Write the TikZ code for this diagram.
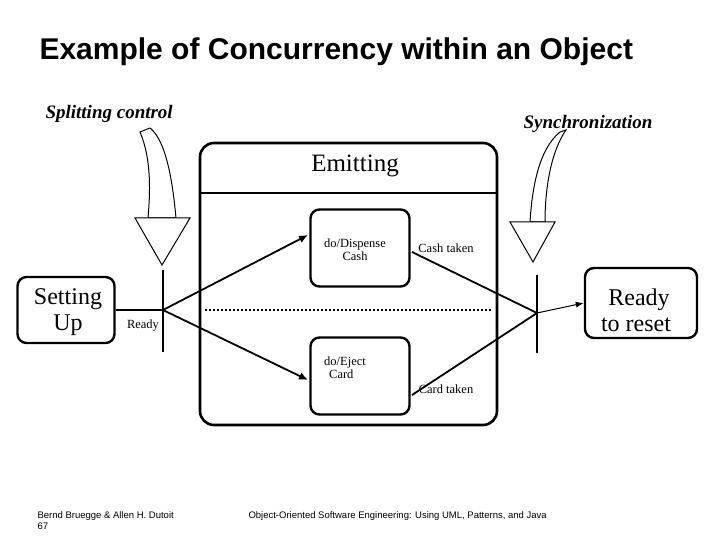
\documentclass[tikz,border=0pt]{standalone}
\usepackage{fontspec}
\setmainfont{Liberation Serif}
\newfontfamily\titlefont{Liberation Sans}
\usetikzlibrary{positioning,arrows.meta}
\begin{document}
\begin{tikzpicture}[x=1pt,y=-1pt,
  state/.style={draw,line width=2.4pt,rounded corners=9pt,align=center},
  bar/.style={line width=2.4pt},
  trans/.style={line width=1.8pt,-{Latex[length=9pt,width=8pt]}},
  small/.style={font=\fontsize{12.5}{13}\selectfont},
  hollow/.style={draw,line width=1pt,fill=white}]
\useasboundingbox (0,0) rectangle (720,540);
% title
\node[anchor=west,font=\titlefont\bfseries\fontsize{30}{32}\selectfont] (title) at (36,52) {Example of Concurrency within an Object};
\node[anchor=west,font=\itshape\bfseries\fontsize{19}{22}\selectfont] (split) at (42,114) {Splitting control};
\node[anchor=west,font=\itshape\bfseries\fontsize{19}{22}\selectfont] (sync) at (520,124) {Synchronization};
% composite state
\draw[line width=2.6pt,rounded corners=14pt] (200,143) rectangle (497,425);
\draw[line width=1.4pt] (200,193) -- (497,193);
\node[font=\fontsize{25}{28}\selectfont] (emit) at (355,166) {Emitting};
\draw[line width=2pt,dotted] (205,310) -- (492,310);
% states
\node[state,minimum width=97pt,minimum height=66pt] (setup) at (66,310) {};
\node[font=\fontsize{24}{26}\selectfont,align=center] (setuptxt) at (68,312) {Setting\\Up};
\node[state,minimum width=112pt,minimum height=70pt] (reset) at (641,303) {};
\node[font=\fontsize{24}{26}\selectfont,align=center] (resettxt) at (636,310) {\hspace*{6pt}Ready\\to reset};
\node[state,minimum width=99pt,minimum height=77pt] (cash) at (360,248) {};
\node[small,align=center] (cashtxt) at (355,250) {do/Dispense\\Cash};
\node[state,minimum width=99pt,minimum height=77pt] (card) at (360,376) {};
\node[small,align=left] (cardtxt) at (345,368) {do/Eject\\\hspace{5pt}Card};
% bars
\coordinate (forkT) at (163,270); \coordinate (forkB) at (163,352);
\coordinate (fork) at (163,310);
\coordinate (joinT) at (537,275); \coordinate (joinB) at (537,353);
\coordinate (join) at (537,313);
\draw[bar] (forkT) -- (forkB);
\draw[bar] (joinT) -- (joinB);
% transitions
\draw[line width=1.2pt] (setup.east) -- (fork);
\node[small] (ready) at (143,326) {Ready};
\draw[trans] (fork) -- (308,235);
\draw[trans] (fork) -- (308,380);
\draw[line width=1.8pt] (412,252) -- (join);
\draw[line width=1.8pt] (412,395) -- (join);
\node[small] (cashtaken) at (446,248) {Cash taken};
\node[small] (cardtaken) at (446,389) {Card taken};
\draw[line width=1pt,-{Latex[length=8pt,width=6pt]}] (join) -- (reset.west);
% hollow callout arrows
\draw[hollow] (140,132) .. controls (152,160) and (150,195) .. (148,218)
  -- (176,218) .. controls (172,175) and (165,140) .. (150,128) -- cycle;
\draw[hollow] (135,218) -- (190,218) -- (162,265) -- cycle;
\draw[hollow] (560,132) .. controls (538,150) and (532,190) .. (530,222)
  -- (545,222) .. controls (545,185) and (552,150) .. (566,130) -- cycle;
\draw[hollow] (510,222) -- (555,222) -- (533,262) -- cycle;
% footer
\node[anchor=north west,align=left,font=\titlefont\fontsize{9.5}{11}\selectfont] (foot1) at (34,508) {Bernd Bruegge \& Allen H. Dutoit\\67};
\node[anchor=north west,font=\titlefont\fontsize{9.5}{11}\selectfont] (foot2) at (245,508) {Object-Oriented Software Engineering: Using UML, Patterns, and Java};
\end{tikzpicture}
\end{document}
